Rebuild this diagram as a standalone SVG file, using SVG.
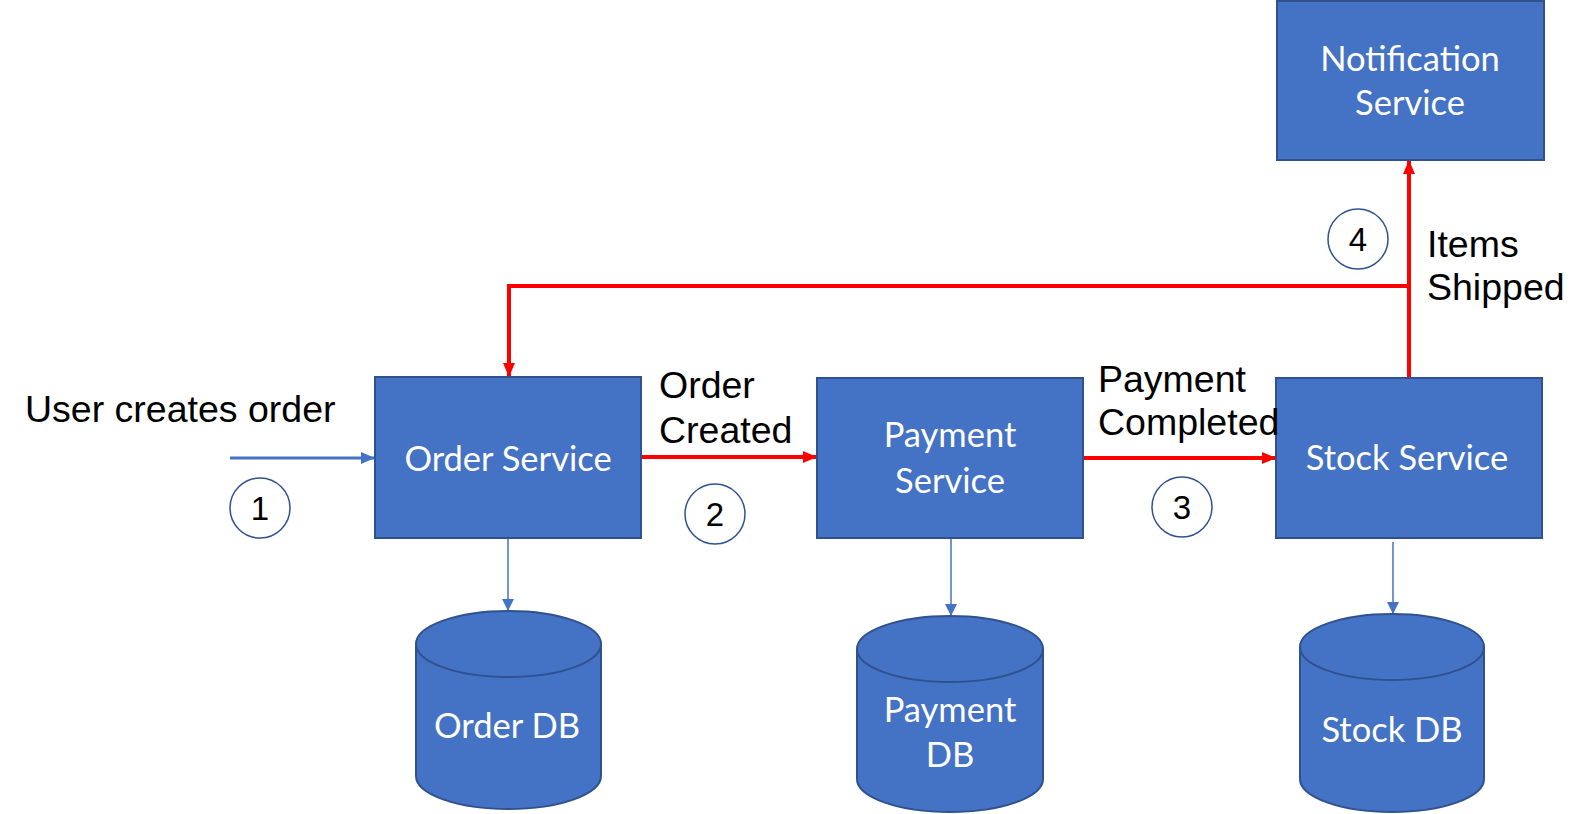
<svg xmlns="http://www.w3.org/2000/svg" width="1585" height="814" viewBox="0 0 1585 814">
<style>
.box{fill:#4472C4;stroke:#2F528F;stroke-width:2}
.bt{font-family:Lato,"Open Sans",sans-serif;font-size:34.5px;fill:#fff;text-anchor:middle}
.lb{font-family:"Liberation Sans",Arial,sans-serif;font-size:37.5px;fill:#000}
.num{font-family:"Liberation Sans",Arial,sans-serif;font-size:33px;fill:#000;text-anchor:middle}
.circ{fill:#fff;stroke:#2F528F;stroke-width:1.5}
.red{fill:none;stroke:#FF0000;stroke-width:4}
.thin{fill:none;stroke:#4472C4;stroke-width:1.5}
</style>
<defs>
<marker id="ar" markerUnits="userSpaceOnUse" markerWidth="14" markerHeight="12" refX="13" refY="6" orient="auto"><path d="M0,0 L14,6 L0,12 Z" fill="#FF0000"/></marker>
<marker id="ab" markerUnits="userSpaceOnUse" markerWidth="14" markerHeight="12" refX="13" refY="6" orient="auto"><path d="M0,0 L14,6 L0,12 Z" fill="#4472C4"/></marker>
<marker id="abs" markerUnits="userSpaceOnUse" markerWidth="12" markerHeight="12" refX="11" refY="6" orient="auto"><path d="M0,0 L12,6 L0,12 Z" fill="#4472C4"/></marker>
</defs>
<g id="connectors">
<line x1="230" y1="458" x2="374" y2="458" stroke="#4472C4" stroke-width="3" marker-end="url(#ab)"/>
<line x1="641" y1="457" x2="816" y2="457" class="red" marker-end="url(#ar)"/>
<line x1="1083" y1="458" x2="1275" y2="458" class="red" marker-end="url(#ar)"/>
<line x1="1409" y1="378" x2="1409" y2="161" class="red" marker-end="url(#ar)"/>
<polyline points="1409,286 509,286 509,376" class="red" marker-end="url(#ar)"/>
<line x1="508" y1="538" x2="508" y2="610" class="thin" marker-end="url(#abs)"/>
<line x1="951" y1="538" x2="951" y2="615" class="thin" marker-end="url(#abs)"/>
<line x1="1393" y1="542" x2="1393" y2="613" class="thin" marker-end="url(#abs)"/>
</g>
<g id="order-service"><rect class="box" x="375" y="377" width="266" height="161"/><text class="bt" x="508" y="471">Order Service</text></g>
<g id="payment-service"><rect class="box" x="817" y="378" width="266" height="160"/><text class="bt" x="950" y="447">Payment</text><text class="bt" x="950" y="493">Service</text></g>
<g id="stock-service"><rect class="box" x="1276" y="378" width="266" height="160"/><text class="bt" x="1407" y="470">Stock Service</text></g>
<g id="notification-service"><rect class="box" x="1277" y="1" width="267" height="159"/><text class="bt" x="1410" y="71">Notification</text><text class="bt" x="1410" y="115">Service</text></g>
<g id="order-db"><path class="box" d="M416,644 L416,776 A92.5,33 0 0 0 601,776 L601,644 A92.5,33 0 0 0 416,644 Z"/><path d="M416,644 A92.5,33 0 0 0 601,644" fill="none" stroke="#2F528F" stroke-width="2"/><text class="bt" x="507" y="738">Order DB</text></g>
<g id="payment-db"><path class="box" d="M857,649 L857,779 A93,33 0 0 0 1043,779 L1043,649 A93,33 0 0 0 857,649 Z"/><path d="M857,649 A93,33 0 0 0 1043,649" fill="none" stroke="#2F528F" stroke-width="2"/><text class="bt" x="950" y="722">Payment</text><text class="bt" x="950" y="767">DB</text></g>
<g id="stock-db"><path class="box" d="M1300,647 L1300,779 A92,33 0 0 0 1484,779 L1484,647 A92,33 0 0 0 1300,647 Z"/><path d="M1300,647 A92,33 0 0 0 1484,647" fill="none" stroke="#2F528F" stroke-width="2"/><text class="bt" x="1392" y="742">Stock DB</text></g>
<g id="labels">
<text class="lb" x="25" y="422">User creates order</text>
<text class="lb" x="659" y="398">Order</text><text class="lb" x="659" y="443">Created</text>
<text class="lb" x="1098" y="392">Payment</text><text class="lb" x="1098" y="435">Completed</text>
<text class="lb" x="1427" y="257">Items</text><text class="lb" x="1427" y="300">Shipped</text>
</g>
<g id="step1"><circle class="circ" cx="260" cy="508" r="30"/><text class="num" x="260" y="520">1</text></g>
<g id="step2"><circle class="circ" cx="715" cy="514" r="30"/><text class="num" x="715" y="526">2</text></g>
<g id="step3"><circle class="circ" cx="1182" cy="507" r="30"/><text class="num" x="1182" y="519">3</text></g>
<g id="step4"><circle class="circ" cx="1358" cy="239" r="30"/><text class="num" x="1358" y="251">4</text></g>
</svg>
